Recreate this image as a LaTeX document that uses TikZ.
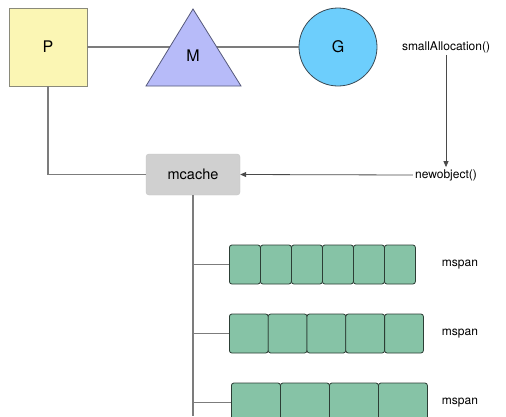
\documentclass[tikz,border=0pt]{standalone}
\usepackage{fontspec}
\setmainfont{TeX Gyre Heros}
\usetikzlibrary{arrows.meta}
\definecolor{pfill}{HTML}{FBF6B4}
\definecolor{pedge}{HTML}{8A8A7A}
\definecolor{mfill}{HTML}{B7BBF9}
\definecolor{medge}{HTML}{55587A}
\definecolor{gfill}{HTML}{6DCEFC}
\definecolor{gedge}{HTML}{3A4A55}
\definecolor{mcfill}{HTML}{D0D0D0}
\definecolor{mcedge}{HTML}{C4C4C4}
\definecolor{cellfill}{HTML}{86C3A6}
\definecolor{celledge}{HTML}{2C3E35}
\definecolor{linegray}{HTML}{7C7C7C}
\definecolor{arrowgray}{HTML}{4A4A4A}
\begin{document}
\begin{tikzpicture}[x=1pt,y=-1pt,
  conn/.style={draw=linegray,line width=1.1pt},
  arr/.style={draw=arrowgray,line width=0.8pt,-{Triangle[length=6pt,width=5pt]}},
  bigtxt/.style={font=\fontsize{16}{18}\selectfont},
  lbl/.style={font=\fontsize{12}{14}\selectfont, inner sep=2pt},
  cell/.style={draw=celledge, fill=cellfill, rounded corners=2.5pt, line width=0.8pt,
               minimum height=39pt, inner sep=0pt, anchor=west}]
\useasboundingbox (0,0) rectangle (506,416);
\fill[white] (0,0) rectangle (506,416);

% P, M, G
\node[draw=pedge, fill=pfill, minimum width=78pt, minimum height=78pt, line width=0.8pt, bigtxt] (P) at (48,47) {P};
\node[circle, draw=gedge, fill=gfill, minimum size=78pt, inner sep=0pt, line width=0.8pt, bigtxt] (G) at (338,47) {G};
\draw[conn] (P.east) -- (G.west);
\draw[fill=mfill, draw=medge, line width=0.8pt] (193,9) -- (241,86) -- (146,86) -- cycle;
\node[bigtxt] (M) at (193,56) {M};

% mcache
\node[fill=mcfill, draw=mcedge, rounded corners=3pt, minimum width=94pt, minimum height=41pt,
      font=\fontsize{14.5}{16}\selectfont] (mc) at (193,174.5) {mcache};

% labels
\node[lbl] (sa) at (446,47) {smallAllocation()};
\node[lbl] (nw) at (446,175) {newobject()};
\draw[arr] (sa.south) -- (nw.north);
\draw[arr] (nw.west) -- (mc.east);
\draw[conn] (P.south) |- (mc.west);

% trunk
\coordinate (trunkend) at (193,416);
\draw[conn] (mc.south) -- (trunkend);

% row 1: 6 cells
\foreach \i in {1,...,6} {
  \node[cell, minimum width=31pt] (a\i) at ({229+31*(\i-1)},264.5) {};
}
% row 2: 5 cells
\foreach \i in {1,...,5} {
  \node[cell, minimum width=38.8pt] (b\i) at ({229+38.8*(\i-1)},333.5) {};
}
% row 3: 4 cells
\foreach \i in {1,...,4} {
  \node[cell, minimum width=49pt] (c\i) at ({231+49*(\i-1)},402.5) {};
}

\draw[conn] (mc.south |- a1.west) -- (a1.west);
\draw[conn] (mc.south |- b1.west) -- (b1.west);
\draw[conn] (mc.south |- c1.west) -- (c1.west);

\node[lbl] (l1) at (460,265) {mspan};
\node[lbl] (l2) at (460,334) {mspan};
\node[lbl] (l3) at (460,403) {mspan};
\end{tikzpicture}
\end{document}
